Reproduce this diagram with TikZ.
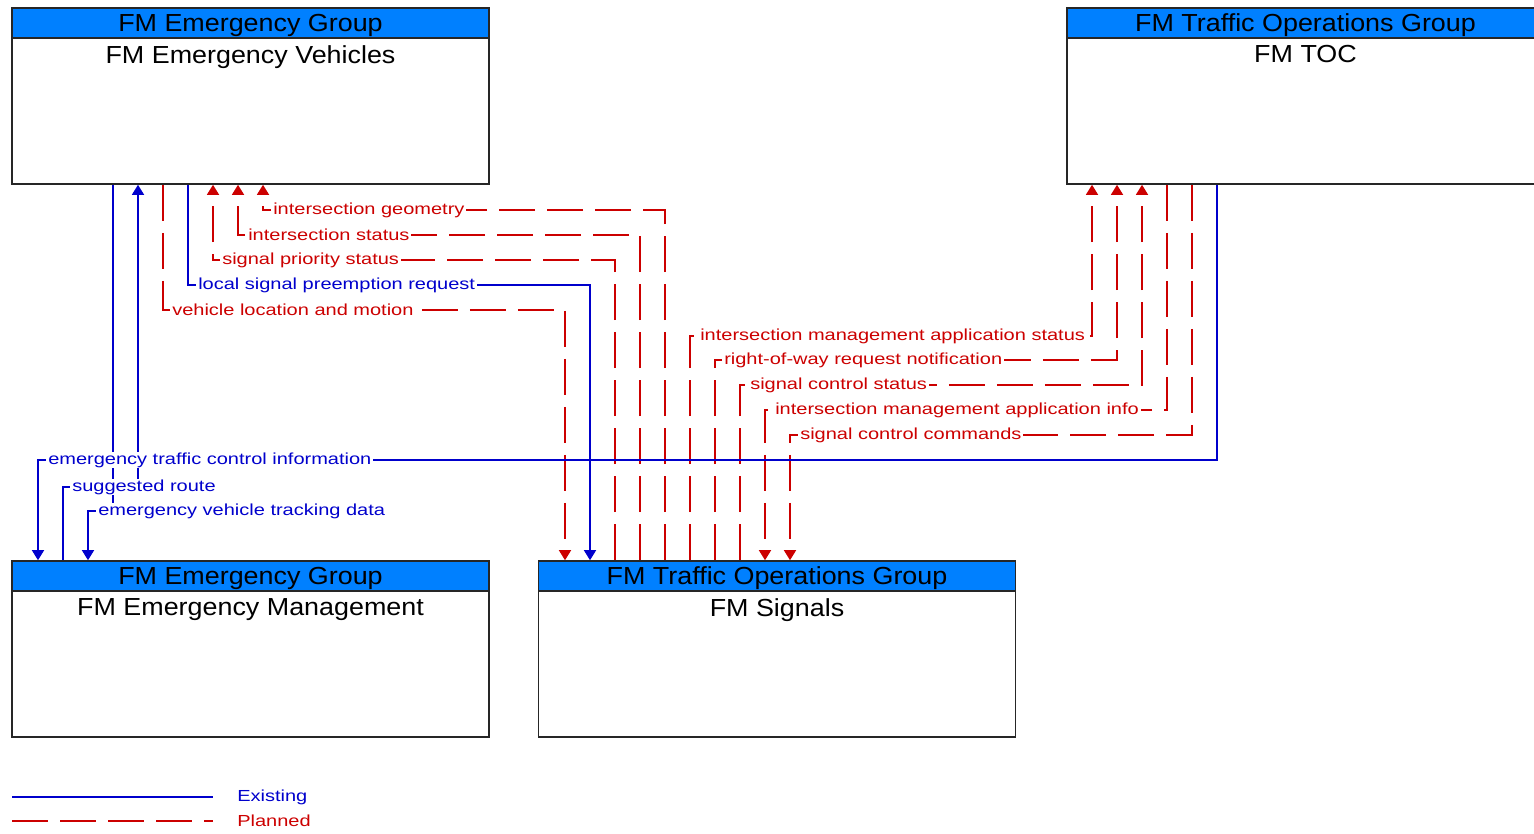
\documentclass[tikz,border=0pt]{standalone}
\usepackage{fontspec}
\setmainfont{Liberation Sans}
\newfontfamily\labfont[FakeStretch=1.25]{Liberation Sans}
\newfontfamily\boxfont[FakeStretch=1.09]{Liberation Sans}
\usepackage{tikz}
\usetikzlibrary{arrows.meta,positioning}

\definecolor{headblue}{RGB}{0,128,255}
\definecolor{flowblue}{RGB}{0,0,204}
\definecolor{flowred}{RGB}{204,0,0}

\tikzset{
  box/.style={draw=black!85, line width=1.2pt, minimum width=357.75pt, minimum height=132pt, inner sep=0pt},
  head/.style={draw=black!85, line width=1.2pt, fill=headblue, minimum width=357.75pt, minimum height=22.5pt, inner sep=0pt, text height=15.9pt, text depth=3.9pt, font=\boxfont\fontsize{18.5pt}{20pt}\selectfont},
  ttl/.style={inner sep=0pt, font=\boxfont\fontsize{18.5pt}{20pt}\selectfont},
  flowlab/.style={fill=white, inner xsep=1.5pt, inner ysep=0.5pt, anchor=west, font=\labfont\fontsize{12pt}{14pt}\selectfont},
  existing/.style={draw=flowblue, line width=1.1pt},
  planned/.style={draw=flowred, line width=1.1pt, dash pattern=on 27pt off 9pt},
  arrowend/.style={-{Triangle[width=9pt,length=7.5pt]}}
}

\begin{document}
\begin{tikzpicture}[x=0.75pt,y=0.75pt,yscale=-1,xscale=1]
\useasboundingbox (0,0) rectangle (1534,833);

%Boxes
\node[box] (ev) at (250.5,96) {};
\node[head, below=0pt of ev.north] (evh) {FM Emergency Group};
\node[ttl, below=5pt of evh] (evt) {FM Emergency Vehicles};

\node[box] (toc) at (1305.5,96) {};
\node[head, below=0pt of toc.north] (toch) {FM Traffic Operations Group};
\node[ttl, below=5pt of toch] (toct) {FM TOC};

\node[box] (em) at (250.5,649) {};
\node[head, below=0pt of em.north] (emh) {FM Emergency Group};
\node[ttl, below=5pt of emh] (emt) {FM Emergency Management};

\node[box] (sig) at (777,649) {};
\node[head, below=0pt of sig.north] (sigh) {FM Traffic Operations Group};
\node[ttl, below=5pt of sigh] (sigt) {FM Signals};

%Flows FM Emergency Vehicles -- FM Signals
\draw[planned,arrowend] (665,0 |- sig.north) |- (263,210) -- (263,0 |- ev.south);
\draw[planned,arrowend] (640,0 |- sig.north) |- (238,235) -- (238,0 |- ev.south);
\draw[planned,arrowend] (615,0 |- sig.north) |- (213,260) -- (213,0 |- ev.south);
\draw[existing,arrowend] (188,0 |- ev.south) |- (590,285) -- (590,0 |- sig.north);
\draw[planned,arrowend] (163,0 |- ev.south) |- (565,310) -- (565,0 |- sig.north);

%Flows FM Signals -- FM TOC
\draw[planned,arrowend] (690,0 |- sig.north) |- (1092,336) -- (1092,0 |- toc.south);
\draw[planned,arrowend] (715,0 |- sig.north) |- (1117,360) -- (1117,0 |- toc.south);
\draw[planned,arrowend] (740,0 |- sig.north) |- (1142,385) -- (1142,0 |- toc.south);
\draw[planned,arrowend] (1167,0 |- toc.south) |- (765,410) -- (765,0 |- sig.north);
\draw[planned,arrowend] (1192,0 |- toc.south) |- (790,435) -- (790,0 |- sig.north);

%Flows to and from FM Emergency Management
\draw[existing,arrowend] (1217,0 |- toc.south) |- (38,460) -- (38,0 |- em.north);
\draw[existing,arrowend] (63,0 |- em.north) |- (138,487) -- (138,0 |- ev.south);
\draw[existing,arrowend] (113,0 |- ev.south) |- (88,511) -- (88,0 |- em.north);

% Text Node
\node[flowlab, text=flowred] (lgeom) at (271,210) {intersection geometry};
\node[flowlab, text=flowred] (listat) at (246,235) {intersection status};
\node[flowlab, text=flowred] (lprio) at (220,260) {signal priority status};
\node[flowlab, text=flowblue] (lpreempt) at (196,285) {local signal preemption request};
\node[flowlab, text=flowred] (lvloc) at (170,310) {vehicle location and motion};
\node[flowlab, text=flowred] (limstat) at (698,336) {intersection management application status};
\node[flowlab, text=flowred] (lrow) at (722,360) {right-of-way request notification};
\node[flowlab, text=flowred] (lscstat) at (748,385) {signal control status};
\node[flowlab, text=flowred] (liminfo) at (773,410) {intersection management application info};
\node[flowlab, text=flowred] (lsccmd) at (798,435) {signal control commands};
\node[flowlab, text=flowblue] (letci) at (46,460) {emergency traffic control information};
\node[flowlab, text=flowblue] (lroute) at (70,487) {suggested route};
\node[flowlab, text=flowblue] (ltrack) at (96,511) {emergency vehicle tracking data};

%Legend
\coordinate (exa) at (12,797);
\coordinate (exb) at (213,797);
\coordinate (pla) at (12,821);
\coordinate (plb) at (213,821);
\draw[existing] (exa) -- (exb);
\draw[planned] (pla) -- (plb);
\node[flowlab, fill=none, text=flowblue] (lexist) at (235,797) {Existing};
\node[flowlab, fill=none, text=flowred] (lplan) at (235,821) {Planned};

\end{tikzpicture}
\end{document}
